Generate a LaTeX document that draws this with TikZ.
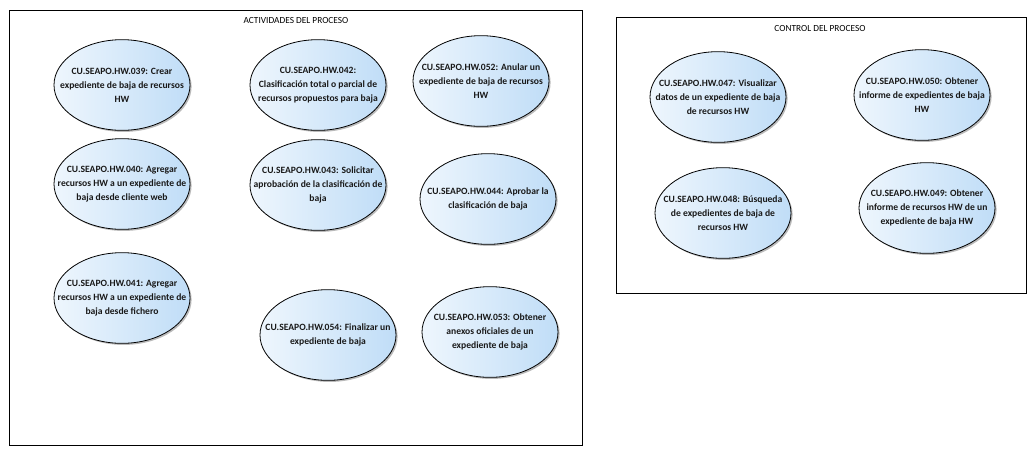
\documentclass[tikz,border=0pt]{standalone}
\usepackage{fontspec}
\setmainfont{Carlito}
\usetikzlibrary{shapes.geometric,shadows}
\definecolor{ucleft}{RGB}{238,246,253}
\definecolor{ucright}{RGB}{192,221,247}
\tikzset{
  frame/.style={draw=black, line width=0.9pt},
  title/.style={font=\fontsize{7}{8.5}\selectfont, inner sep=0pt},
  uctext/.style={font=\bfseries\fontsize{7.2}{10.5}\selectfont, align=center, inner sep=0pt, text=black!90},
  usecase/.style={ellipse, draw=black, line width=0.6pt, minimum width=102pt, minimum height=68pt, inner sep=0pt,
    left color=ucleft, right color=ucright,
    drop shadow={shadow xshift=1.2pt, shadow yshift=-1.2pt, fill=black!45, opacity=0.6}},
}
\begin{document}
\begin{tikzpicture}[x=0.75pt,y=-0.75pt]
\useasboundingbox (0,0) rectangle (1036,455);
% frames
\node[frame, minimum width=429.75pt, minimum height=326.25pt, anchor=north west, inner sep=0pt] (act) at (9,10) {};
\node[title] (actT) at (296,20) {ACTIVIDADES DEL PROCESO};
\node[frame, minimum width=307.5pt, minimum height=207pt, anchor=north west, inner sep=0pt] (ctl) at (616,17) {};
\node[title] (ctlT) at (820,28) {CONTROL DEL PROCESO};
% use cases
\node[usecase, label={[uctext]center:CU.SEAPO.HW.039: Crear\\expediente de baja de recursos\\HW}] (u039) at (122,85) {};
\node[usecase, label={[uctext]center:CU.SEAPO.HW.042:\\Clasificación total o parcial de\\recursos propuestos para baja}] (u042) at (318,85) {};
\node[usecase, label={[uctext]center:CU.SEAPO.HW.052: Anular un\\expediente de baja de recursos\\HW}] (u052) at (481,81) {};
\node[usecase, label={[uctext]center:CU.SEAPO.HW.040: Agregar\\recursos HW a un expediente de\\baja desde cliente web}] (u040) at (122,184) {};
\node[usecase, label={[uctext]center:CU.SEAPO.HW.043: Solicitar\\aprobación de la clasificación de\\baja}] (u043) at (318,185) {};
\node[usecase, label={[uctext]center:CU.SEAPO.HW.044: Aprobar la\\clasificación de baja}] (u044) at (488,199) {};
\node[usecase, label={[uctext]center:CU.SEAPO.HW.041: Agregar\\recursos HW a un expediente de\\baja desde fichero}] (u041) at (122,298) {};
\node[usecase, label={[uctext]center:CU.SEAPO.HW.054: Finalizar un\\expediente de baja}] (u054) at (328,335) {};
\node[usecase, label={[uctext]center:CU.SEAPO.HW.053: Obtener\\anexos oficiales de un\\expediente de baja}] (u053) at (490,332) {};
\node[usecase, label={[uctext]center:CU.SEAPO.HW.047: Visualizar\\datos de un expediente de baja\\de recursos HW}] (u047) at (718,97) {};
\node[usecase, label={[uctext]center:CU.SEAPO.HW.050: Obtener\\informe de expedientes de baja\\HW}] (u050) at (922,95) {};
\node[usecase, label={[uctext]center:CU.SEAPO.HW.048: Búsqueda\\de expedientes de baja de\\recursos HW}] (u048) at (723,213) {};
\node[usecase, label={[uctext]center:CU.SEAPO.HW.049: Obtener\\informe de recursos HW de un\\expediente de baja HW}] (u049) at (927,208) {};
\end{tikzpicture}
\end{document}
